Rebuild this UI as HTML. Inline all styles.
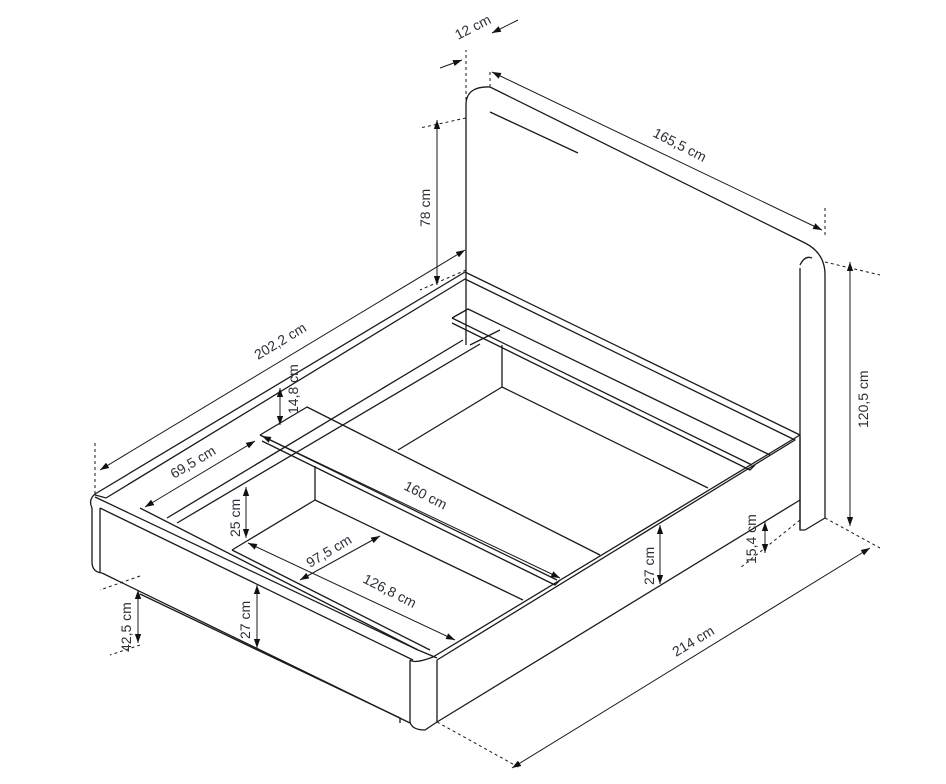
<!DOCTYPE html>
<html><head><meta charset="utf-8"><style>
html,body{margin:0;padding:0;background:#fff;}
svg{display:block;}
text{font-family:"Liberation Sans",sans-serif;font-size:14px;fill:#2a2f3a;}
</style></head><body>
<svg width="946" height="784" viewBox="0 0 946 784" xmlns="http://www.w3.org/2000/svg">
<defs>
<marker id="a" viewBox="0 0 10 10" refX="10" refY="5" markerWidth="9" markerHeight="9" orient="auto-start-reverse"><path d="M0,1.5 L10,5 L0,8.5 z" fill="#111"/></marker>
</defs>
<g fill="none" stroke="#1a1a1a" stroke-width="1.3" stroke-linejoin="round">
<path d="M466,272 L466,105 Q466,86 490,87 L805,243 Q825,253 825,275 L825,518 L805,530"/>
<path d="M800,265 Q805,255 812,258"/>
<path d="M800,268 L800,530 L805,530"/>
<path d="M490,112 L578,153"/>
<path d="M95,494 L465,272 L800,435 L433,657"/>
<path d="M106,498 L465,279 L795,440 L437,660"/>
<path d="M466,272 L466,345"/>
<path d="M95,494 Q88,500 92,508 L92,562 Q92,572 102,573"/>
<path d="M100,508 L100,572"/>
<path d="M95,495 Q103,497 106,498"/>
<path d="M100,508 L413,660"/>
<path d="M102,573 L410,723"/>
<path d="M140,594 L400,718 L400,723"/>
<path d="M95,497 L418,650 Q430,655 437,658"/>
<path d="M140,508 L418,650"/>
<path d="M410,660 L410,722 Q412,730 425,730 L437,722 L437,660"/>
<path d="M433,657 Q415,664 410,660"/>
<path d="M437,722 L800,500 L800,437"/>
<path d="M800,500 L800,530"/>
<path d="M167,518 L463,340"/>
<path d="M177,523 L480,344"/>
<path d="M470,345 L500,330"/>
<path d="M315,466 L315,500 L232,550"/>
<path d="M315,500 L523,600"/>
<path d="M502,345 L502,387 L398,450"/>
<path d="M502,387 L708,488"/>
<path d="M232,550 L430,650"/>
<path d="M260,435 L307,407 L600,555"/>
<path d="M260,435 L557,580"/>
<path d="M262,441 L555,585 L560,580"/>
<path d="M452,318 L468,309 L770,455"/>
<path d="M452,318 L752,465"/>
<path d="M452,323 L750,470 L755,465"/>
</g>
<g fill="none" stroke="#1a1a1a" stroke-width="1" stroke-dasharray="3,3">
<path d="M466,100 L466,50"/><path d="M490,87 L490,70"/>
<path d="M466,118 L420,128"/><path d="M466,270 L420,290"/>
<path d="M825,235 L825,208"/><path d="M825,262 L880,275"/>
<path d="M825,518 L880,548"/>
<path d="M95,494 L95,440"/>
<path d="M140,576 L100,590"/><path d="M140,645 L110,655"/>
<path d="M437,722 L520,768"/>
<path d="M800,520 L740,568"/>
</g>
<g fill="none" stroke="#1a1a1a" stroke-width="1" marker-start="url(#a)" marker-end="url(#a)">
<path d="M492,72 L822,230"/>
<path d="M437,120 L437,285"/>
<path d="M100,470 L465,250"/>
<path d="M850,262 L850,526"/>
<path d="M870,548 L512,768"/>
<path d="M280,388 L280,425"/>
<path d="M145,507 L255,441"/>
<path d="M246,487 L246,538"/>
<path d="M300,580 L380,536"/>
<path d="M248,543 L455,640"/>
<path d="M262,436 L560,578"/>
<path d="M138,590 L138,643"/>
<path d="M257,585 L257,648"/>
<path d="M660,525 L660,584"/>
<path d="M765,522 L765,553"/>
</g>
<path d="M440,68 L462,60" stroke="#1a1a1a" marker-end="url(#a)" fill="none"/>
<path d="M518,20 L492,33" stroke="#1a1a1a" marker-end="url(#a)" fill="none"/>
<text transform="translate(458,40) rotate(-27)">12 cm</text>
<text transform="translate(652,136) rotate(27)">165,5 cm</text>
<text transform="translate(430,227) rotate(-90)">78 cm</text>
<text transform="translate(258,360) rotate(-31)">202,2 cm</text>
<text transform="translate(868,428) rotate(-90)">120,5 cm</text>
<text transform="translate(676,657) rotate(-31)">214 cm</text>
<text transform="translate(298,414) rotate(-90)">14,8 cm</text>
<text transform="translate(174,479) rotate(-31)">69,5 cm</text>
<text transform="translate(240,537) rotate(-90)">25 cm</text>
<text transform="translate(310,568) rotate(-31)">97,5 cm</text>
<text transform="translate(403,489) rotate(27)">160 cm</text>
<text transform="translate(362,582) rotate(27)">126,8 cm</text>
<text transform="translate(131,652) rotate(-90)">42,5 cm</text>
<text transform="translate(250,639) rotate(-90)">27 cm</text>
<text transform="translate(654,585) rotate(-90)">27 cm</text>
<text transform="translate(756,564) rotate(-90)">15,4 cm</text>
</svg>
</body></html>
